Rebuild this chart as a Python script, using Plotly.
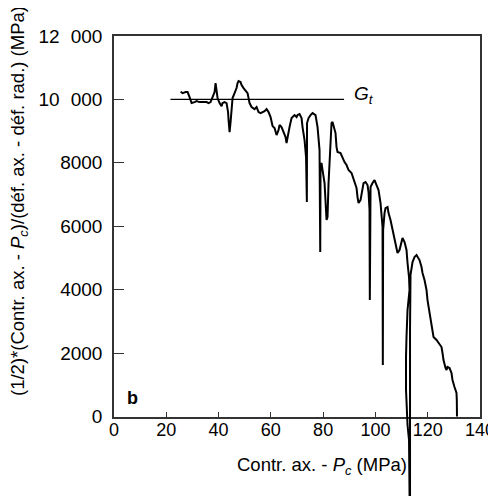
import plotly.graph_objects as go

pc = [25.47, 26.23, 27.38, 28.15, 28.91, 29.68, 30.82, 31.59, 32.73, 33.88,
      35.41, 36.18, 36.94, 37.71, 38.47, 38.85, 39.04, 39.24, 39.62, 40.38,
      41.15, 41.53, 42.29, 43.06, 43.44, 43.63, 43.82, 44.21, 44.59, 44.97,
      45.16, 45.35, 46.12, 46.88, 47.27, 47.65, 48.41, 48.80, 49.56, 50.33,
      51.09, 51.47, 51.85, 52.62, 53.00, 53.77, 54.53, 55.30, 56.06, 56.83,
      57.59, 58.36, 59.12, 59.89, 60.27, 60.65, 61.41, 61.80, 62.18, 62.94,
      63.33, 64.09, 64.86, 65.62, 66.00, 66.39, 67.15, 67.92, 68.30, 69.06,
      69.83, 70.21, 70.97, 71.74, 72.12, 72.89, 73.46, 73.77, 73.84, 74.42,
      75.18, 75.95, 77.09, 77.48, 77.86, 78.62, 78.89, 79.01, 79.39, 79.77,
      80.54, 81.30, 81.68, 82.07, 82.45, 82.83, 83.21, 83.59, 83.98, 84.74,
      85.12, 85.50, 86.65, 87.42, 88.18, 88.95, 89.71, 90.86, 91.62, 92.77,
      93.15, 93.54, 94.30, 95.07, 95.45, 96.21, 96.98, 97.36, 97.74, 97.86,
      97.97, 98.13, 98.89, 99.66, 100.42, 101.19, 101.95, 102.33, 102.72, 102.83,
      102.94, 103.48, 103.86, 104.63, 105.01, 105.77, 106.54, 107.30, 108.07, 108.45,
      109.22, 109.98, 110.36, 111.13, 111.89, 112.28, 112.85, 113.04, 112.28, 111.89,
      111.70, 111.70, 111.89, 112.28, 112.85, 113.04, 113.23, 113.23, 113.42, 113.42,
      114.19, 114.95, 115.72, 116.10, 116.86, 117.63, 118.01, 118.78, 119.54, 119.92,
      120.31, 121.07, 121.45, 121.84, 122.22, 123.37, 124.13, 125.28, 125.66, 126.04,
      126.81, 127.19, 127.57, 128.34, 129.10, 129.48, 130.25, 131.01, 131.13, 131.20]
ratio = [10241, 10200, 10231, 10231, 10074, 9885, 9916, 9948, 9916, 9916,
         9916, 9885, 9916, 10074, 10231, 10515, 10358, 10200, 10042, 9885,
         9790, 9885, 9916, 9885, 9759, 9601, 9349, 8970, 9286, 9601,
         9885, 10042, 10200, 10358, 10515, 10578, 10547, 10452, 10358, 10263,
         10200, 10042, 9885, 9759, 9727, 9695, 9759, 9601, 9569, 9601,
         9632, 9695, 9601, 9443, 9254, 9159, 9096, 8970, 8876, 9033,
         9191, 9128, 8970, 8813, 8623, 8813, 9128, 9412, 9443, 9506,
         9443, 9506, 9538, 9412, 9128, 8718, 8182, 6763, 9254, 9412,
         9506, 9569, 9506, 9349, 9128, 8402, 5187, 7930, 7993, 7772,
         7362, 6196, 6290, 7362, 8182, 8939, 9254, 9286, 9191, 8939,
         8497, 8340, 8308, 8150, 8024, 7930, 7772, 7678, 7488, 7205,
         6921, 6732, 6826, 7141, 7362, 7394, 7299, 7078, 6511, 3673,
         6826, 7236, 7362, 7457, 7299, 7141, 6732, 6196, 5975, 1624,
         5880, 6416, 6574, 6606, 6416, 6196, 5880, 5565, 5344, 5155,
         5250, 5565, 5628, 5502, 5250, 4840, 4398, 3989, 3358, 2507,
         1876, 836, 205, -268, -741, -4000, -4000, 2727, 3989, 4461,
         4871, 5029, 5092, 5029, 4934, 4714, 4525, 4304, 3989, 3673,
         3453, 3137, 2885, 2633, 2507, 2412, 2317, 2191, 2002, 1781,
         1529, 1466, 1561, 1529, 1372, 1151, 930, 741, 520, 0]

gt_x = [21.6, 88.0]
gt_y = [10000, 10000]

x_ticks = [0, 20, 40, 60, 80, 100, 120, 140]
y_ticks = [0, 2000, 4000, 6000, 8000, 10000, 12000]
y_ticktext = ["0", "2000", "4000", "6000", "8000",
              "10\u2002\u200a000", "12\u2002\u200a000"]

# page has an 8px body margin, so the figure is a bit smaller than the window
W, H = 488, 488
ml, mr, mt = 106, 16, 28
plot_bottom = 408.5
y_max = 12000
# lower part of the figure is used by a hidden axis so the curve can run past the x axis
y_dom0 = (H - plot_bottom) / (H - mt)
per_px = y_max / (plot_bottom - mt)
y2_min = y_max - (H - mt) * per_px

FONT = "Liberation Sans, Arial, sans-serif"
AX = "#333333"


def px_x(p):
    return (p - ml) / (W - ml - mr)


def px_y(p):
    return (H - p) / (H - mt)


fig = go.Figure()
fig.add_trace(go.Scatter(x=gt_x, y=gt_y, mode="lines",
                         line=dict(color="black", width=1.3), showlegend=False))
fig.add_trace(go.Scatter(x=pc, y=ratio, mode="lines", xaxis="x", yaxis="y2",
                         line=dict(color="black", width=2), showlegend=False))

fig.add_annotation(x=gt_x[1] + 3, y=gt_y[0] + 150, xref="x", yref="y",
                   text="<i>G<sub>t</sub></i>", showarrow=False, xanchor="left",
                   font=dict(size=19, color="black", family=FONT))
fig.add_annotation(x=6.9, y=580, xref="x", yref="y", text="<b>b</b>",
                   showarrow=False, font=dict(size=18, color="black", family=FONT))

fig.add_annotation(x=px_x(314), y=px_y(458), xref="paper", yref="paper",
                   xanchor="center", yanchor="middle", showarrow=False,
                   text="Contr. ax. - <i>P<sub>c</sub></i> (MPa)",
                   font=dict(size=18.5, color="black", family=FONT))
fig.add_annotation(x=px_x(11), y=px_y(193), xref="paper", yref="paper",
                   xanchor="center", yanchor="middle", showarrow=False, textangle=-90,
                   text="(1/2)*(Contr. ax. - <i>P<sub>c</sub></i>)/(déf. ax. - déf. rad.) (MPa)",
                   font=dict(size=18.5, color="black", family=FONT))

fig.update_layout(
    width=W, height=H,
    margin=dict(l=ml, r=mr, t=mt, b=0, autoexpand=False),
    paper_bgcolor="white", plot_bgcolor="rgba(0,0,0,0)",
    font=dict(family=FONT, size=19, color="black"),
    xaxis=dict(range=[0, 140], tickvals=x_ticks, ticks="inside", ticklen=5,
               tickwidth=1.3, tickcolor=AX, showline=True, linecolor=AX,
               linewidth=1.5, mirror=True, showgrid=False, zeroline=False,
               anchor="y", automargin=False, ticklabelstandoff=-4,
               tickfont=dict(size=18)),
    yaxis=dict(range=[0, y_max], domain=[y_dom0, 1], tickvals=y_ticks,
               ticktext=y_ticktext, ticks="inside", ticklen=10, tickwidth=1.3,
               tickcolor=AX, showline=True, linecolor=AX, linewidth=1.5,
               mirror=True, showgrid=False, zeroline=False, anchor="x",
               automargin=False, ticklabelstandoff=6),
    yaxis2=dict(range=[y2_min, y_max], domain=[0, 1], anchor="x", visible=False,
                showgrid=False, zeroline=False, automargin=False),
)

fig.write_html("out.html")
